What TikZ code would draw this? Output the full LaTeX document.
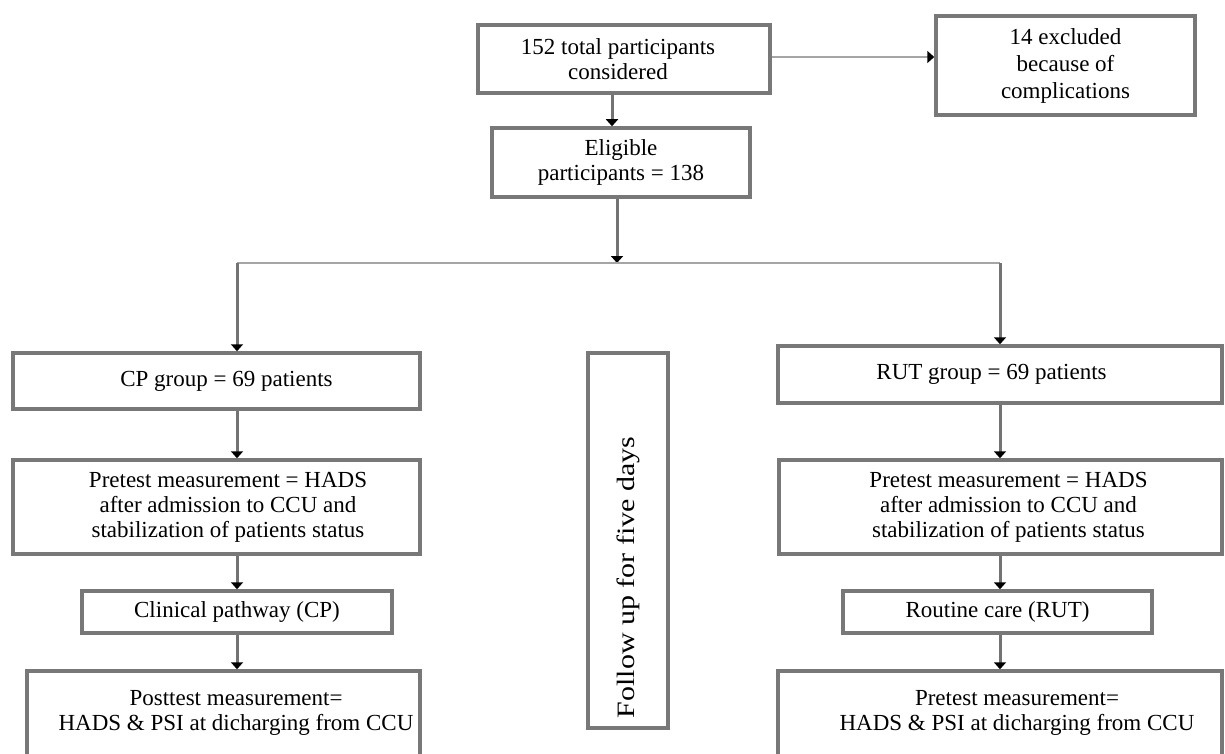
\documentclass[tikz,border=0pt]{standalone}
\usepackage{fontspec}
\setmainfont{Liberation Serif}
\usepackage{tikz}
\usetikzlibrary{arrows.meta,calc,positioning}
\definecolor{boxgray}{RGB}{120,120,120}
\definecolor{linegray}{RGB}{115,115,115}
\definecolor{lightgray}{RGB}{165,165,165}
\tikzset{
    x=1pt,y=-1pt,
    box/.style ={draw=boxgray, line width=3.5pt, fill=white, align=center, inner sep=0pt,
                 font=\fontsize{23}{25}\selectfont},
    arr/.style ={draw=linegray, line width=3pt, -{Triangle[black,length=7pt,width=12pt]}},
    thin/.style ={draw=lightgray, line width=2.5pt}
}
\begin{document}
\begin{tikzpicture}
    \clip (0,0) rectangle (1225,754);
    \fill[white] (0,0) rectangle (1225,754);

    \node[box, minimum width=292, minimum height=68] (total) at (624,59) {\hspace*{-12pt}152 total participants\\\hspace*{-12pt}considered};
    \node[box, minimum width=259, minimum height=99, font=\fontsize{23}{27}\selectfont] (excl) at (1065.5,65.5) {14 excluded\\because of\\complications};
    \node[box, minimum width=258, minimum height=69] (elig) at (621,162.5) {Eligible\\participants = 138};

    \node[box, minimum width=407, minimum height=56] (cp) at (216.5,381) {\hspace*{20pt}CP group = 69 patients};
    \node[box, minimum width=407, minimum height=94] (pre1) at (216.5,507) {\hspace*{23pt}Pretest measurement = HADS\\\hspace*{23pt}after admission to CCU and\\\hspace*{23pt}stabilization of patients status};
    \node[box, minimum width=310, minimum height=42] (cpath) at (237,612) {Clinical pathway (CP)};
    \node[box, minimum width=393, minimum height=99, text depth=20pt] (post1) at (223.5,720.5) {\hspace*{25pt}Posttest measurement=\\\hspace*{25pt}HADS \& PSI at dicharging from CCU};

    \node[box, minimum width=80, minimum height=375] (follow) at (628,540.5) {};
    \node[rotate=90, font=\fontsize{25}{27}\selectfont] (followtxt) at ($(follow.center)+(0,37)$) {\scalebox{1.2}[1]{Follow up for five days}};

    \node[box, minimum width=444, minimum height=57] (rut) at (1000,374.5) {\hspace*{-17pt}RUT group = 69 patients};
    \node[box, minimum width=443, minimum height=94] (pre2) at (1000.5,507) {\hspace*{16pt}Pretest measurement = HADS\\\hspace*{16pt}after admission to CCU and\\\hspace*{16pt}stabilization of patients status};
    \node[box, minimum width=309, minimum height=42] (rcare) at (997.5,612) {Routine care (RUT)};
    \node[box, minimum width=444, minimum height=99, text depth=20pt] (post2) at (1000,720.5) {\hspace*{34pt}Pretest measurement=\\\hspace*{34pt}HADS \& PSI at dicharging from CCU};

    \coordinate (split) at (617,263);
    \coordinate (colL) at (237,263);
    \coordinate (colR) at (1000,263);

    % top part
    \draw[thin, -{Triangle[black,length=7pt,width=12pt]}] ([yshift=2pt]total.east) -- ([yshift=2pt]total.east -| excl.west);
    \draw[arr] ([xshift=-12pt]total.south) -- ([xshift=-12pt]total.south |- elig.north);
    \draw[arr] (elig.south -| split) -- (split);
    \draw[thin] (colL) -- (colR);

    % left arm
    \draw[arr] (colL) -- (colL |- cp.north);
    \draw[arr] (cp.south -| colL) -- (pre1.north -| colL);
    \draw[arr] (pre1.south -| colL) -- (cpath.north -| colL);
    \draw[arr] (cpath.south -| colL) -- (post1.north -| colL);

    % right arm
    \draw[arr] (colR) -- (colR |- rut.north);
    \draw[arr] (rut.south -| colR) -- (pre2.north -| colR);
    \draw[arr] (pre2.south -| colR) -- (rcare.north -| colR);
    \draw[arr] (rcare.south -| colR) -- (post2.north -| colR);
\end{tikzpicture}
\end{document}
